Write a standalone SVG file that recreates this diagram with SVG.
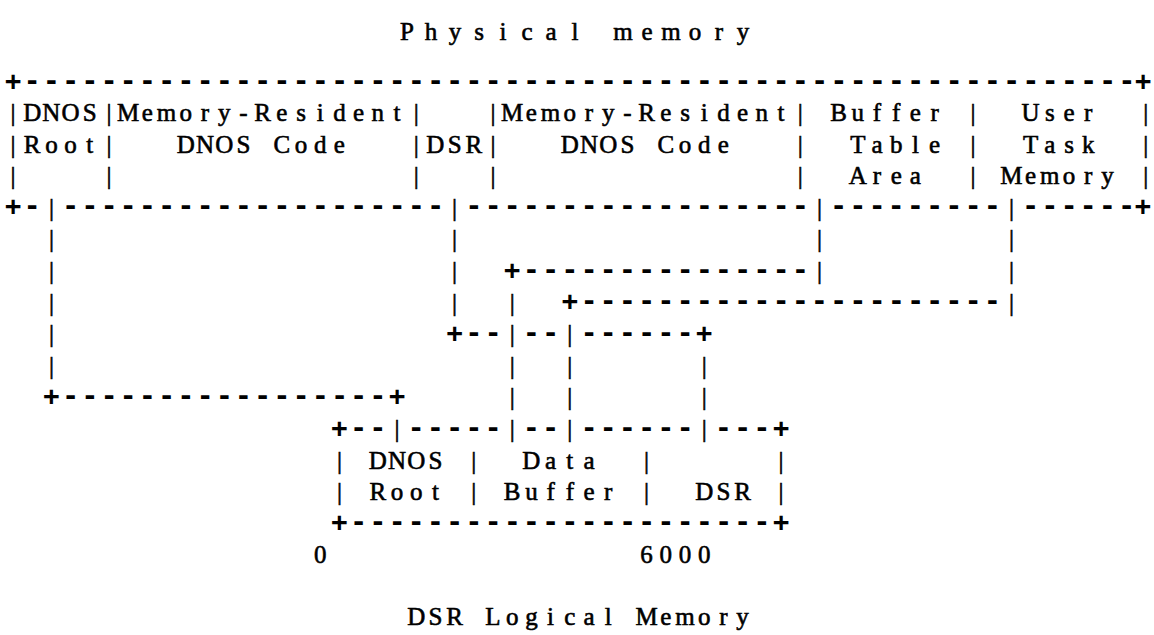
<svg xmlns="http://www.w3.org/2000/svg" width="1154" height="635" viewBox="0 0 1154 635">
<style>
.s{font-family:"Liberation Serif","Times New Roman",serif;font-size:25px;text-anchor:middle;fill:#000;stroke:#000;stroke-width:0.6}
.m{font-family:"DejaVu Sans Mono","Liberation Mono",monospace;font-size:27px;font-weight:bold;letter-spacing:2.95px;fill:#000}
.e{letter-spacing:0}
</style>
<rect width="1154" height="635" fill="#fff"/>
<g id="title-physical"><text class="s" y="40" x="407 431 455 479 503 527 551 575 599 623 647 671 695 719 743">Physical memory</text></g>
<g id="physical-memory">
<text class="m" x="4.9" y="89.6">+---------------------------------------------------------<tspan class="e">-+</tspan></text>
<text class="s" x="13" y="121">|</text><text class="s" x="109" y="121">|</text><text class="s" x="416.2" y="121">|</text><text class="s" x="493" y="121">|</text><text class="s" x="800.2" y="121">|</text><text class="s" x="973" y="121">|</text><text class="s" x="1145.8" y="121">|</text>
<text class="s" x="13" y="152.6">|</text><text class="s" x="109" y="152.6">|</text><text class="s" x="416.2" y="152.6">|</text><text class="s" x="493" y="152.6">|</text><text class="s" x="800.2" y="152.6">|</text><text class="s" x="973" y="152.6">|</text><text class="s" x="1145.8" y="152.6">|</text>
<text class="s" x="13" y="184.2">|</text><text class="s" x="109" y="184.2">|</text><text class="s" x="416.2" y="184.2">|</text><text class="s" x="493" y="184.2">|</text><text class="s" x="800.2" y="184.2">|</text><text class="s" x="973" y="184.2">|</text><text class="s" x="1145.8" y="184.2">|</text>
<text class="m" x="4.9" y="215.4">+-</text>
<text class="s" x="51.4" y="215.8">|</text>
<text class="m" x="62.5" y="215.4">--------------------</text>
<text class="s" x="454.6" y="215.8">|</text>
<text class="m" x="465.7" y="215.4">------------------</text>
<text class="s" x="819.4" y="215.8">|</text>
<text class="m" x="830.5" y="215.4">---------</text>
<text class="s" x="1011.4" y="215.8">|</text>
<text class="m" x="1022.5" y="215.4">-----<tspan class="e">-+</tspan></text>
</g>
<g id="node-dnos-root">
<text class="s" y="121" x="32.2 51.4 70.6 89.8">DNOS</text>
<text class="s" y="152.6" x="32.2 51.4 70.6 89.8">Root</text>
</g>
<g id="node-resident-code-1">
<text class="s" y="121" x="128.2 147.4 166.6 185.8 205 224.2 243.4 262.6 281.8 301 320.2 339.4 358.6 377.8 397">Memory-Resident</text>
<text class="s" y="152.6" x="185.8 205 224.2 243.4 262.6 281.8 301 320.2 339.4">DNOS Code</text>
</g>
<g id="node-dsr">
<text class="s" y="152.6" x="435.4 454.6 473.8">DSR</text>
</g>
<g id="node-resident-code-2">
<text class="s" y="121" x="512.2 531.4 550.6 569.8 589 608.2 627.4 646.6 665.8 685 704.2 723.4 742.6 761.8 781">Memory-Resident</text>
<text class="s" y="152.6" x="569.8 589 608.2 627.4 646.6 665.8 685 704.2 723.4">DNOS Code</text>
</g>
<g id="node-buffer-table">
<text class="s" y="121" x="838.6 857.8 877 896.2 915.4 934.6">Buffer</text>
<text class="s" y="152.6" x="857.8 877 896.2 915.4 934.6">Table</text>
<text class="s" y="184.2" x="857.8 877 896.2 915.4">Area</text>
</g>
<g id="node-user-task">
<text class="s" y="121" x="1030.6 1049.8 1069 1088.2">User</text>
<text class="s" y="152.6" x="1030.6 1049.8 1069 1088.2">Task</text>
<text class="s" y="184.2" x="1011.4 1030.6 1049.8 1069 1088.2 1107.4">Memory</text>
</g>
<g id="connectors">
<text class="s" x="51.4" y="247.4">|</text><text class="s" x="454.6" y="247.4">|</text><text class="s" x="819.4" y="247.4">|</text><text class="s" x="1011.4" y="247.4">|</text>
<text class="s" x="51.4" y="279">|</text><text class="s" x="454.6" y="279">|</text>
<text class="m" x="504.1" y="278.6">+---------------</text>
<text class="s" x="819.4" y="279">|</text><text class="s" x="1011.4" y="279">|</text>
<text class="s" x="51.4" y="310.6">|</text><text class="s" x="454.6" y="310.6">|</text><text class="s" x="512.2" y="310.6">|</text>
<text class="m" x="561.7" y="310.2">+----------------------</text>
<text class="s" x="1011.4" y="310.6">|</text>
<text class="s" x="51.4" y="342.2">|</text>
<text class="m" x="446.5" y="341.8">+--</text>
<text class="s" x="512.2" y="342.2">|</text>
<text class="m" x="523.3" y="341.8">--</text>
<text class="s" x="569.8" y="342.2">|</text>
<text class="m" x="580.9" y="341.8">------+</text>
<text class="s" x="51.4" y="373.8">|</text><text class="s" x="512.2" y="373.8">|</text><text class="s" x="569.8" y="373.8">|</text><text class="s" x="704.2" y="373.8">|</text>
<text class="m" x="43.3" y="405">+-----------------+</text>
<text class="s" x="512.2" y="405.4">|</text><text class="s" x="569.8" y="405.4">|</text><text class="s" x="704.2" y="405.4">|</text>
</g>
<g id="logical-memory">
<text class="m" x="331.3" y="436.6">+--</text>
<text class="s" x="397" y="437">|</text>
<text class="m" x="408.1" y="436.6">-----</text>
<text class="s" x="512.2" y="437">|</text>
<text class="m" x="523.3" y="436.6">--</text>
<text class="s" x="569.8" y="437">|</text>
<text class="m" x="580.9" y="436.6">------</text>
<text class="s" x="704.2" y="437">|</text>
<text class="m" x="715.3" y="436.6">---+</text>
<text class="s" x="339.4" y="468.6">|</text><text class="s" x="473.8" y="468.6">|</text><text class="s" x="646.6" y="468.6">|</text><text class="s" x="781" y="468.6">|</text>
<text class="s" x="339.4" y="500.2">|</text><text class="s" x="473.8" y="500.2">|</text><text class="s" x="646.6" y="500.2">|</text><text class="s" x="781" y="500.2">|</text>
<text class="m" x="331.3" y="531.4">+----------------------+</text>
</g>
<g id="node-logical-dnos-root">
<text class="s" y="468.6" x="377.8 397 416.2 435.4">DNOS</text>
<text class="s" y="500.2" x="377.8 397 416.2 435.4">Root</text>
</g>
<g id="node-data-buffer">
<text class="s" y="468.6" x="531.4 550.6 569.8 589">Data</text>
<text class="s" y="500.2" x="512.2 531.4 550.6 569.8 589 608.2">Buffer</text>
</g>
<g id="node-logical-dsr">
<text class="s" y="500.2" x="704.2 723.4 742.6">DSR</text>
</g>
<g id="addresses">
<text class="s" y="563.4" x="320.2">0</text>
<text class="s" y="563.4" x="646.6 665.8 685 704.2">6000</text>
</g>
<g id="title-logical"><text class="s" y="625" x="416.2 435.4 454.6 473.8 493 512.2 531.4 550.6 569.8 589 608.2 627.4 646.6 665.8 685 704.2 723.4 742.6">DSR Logical Memory</text></g>
</svg>
